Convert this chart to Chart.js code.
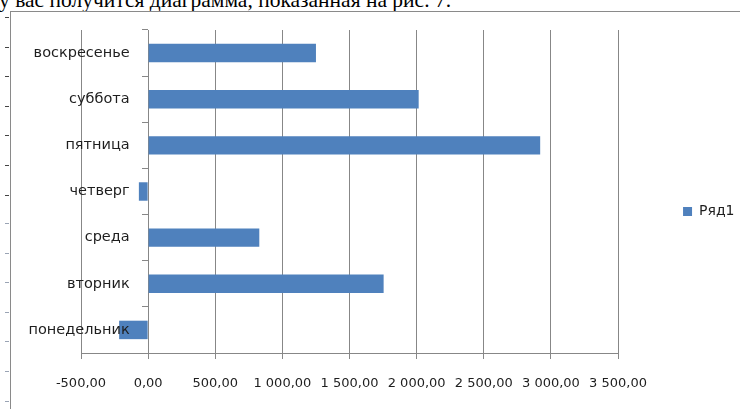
<!DOCTYPE html>
<html>
<head>
<meta charset="utf-8">
<script src="https://cdn.jsdelivr.net/npm/chart.js@4.4.0/dist/chart.umd.min.js"></script>
<style>
  html, body { margin: 0; padding: 0; background: #fff; }
  body { width: 740px; height: 409px; position: relative; overflow: hidden; }
  #caption { position: absolute; left: -1px; top: -10px; font: 21.5px/21px "Liberation Serif", serif; color: #000; white-space: nowrap; }
  #frame { position: absolute; left: 10px; top: 11px; width: 800px; height: 500px; border: 1px solid #8a8a8a; }
  .edge { position: absolute; left: 5px; width: 4px; }
  #edge1 { top: 17px; height: 190px; background: repeating-linear-gradient(to bottom, #444 0 1px, transparent 1px 29.6px); }
  #edge2 { top: 223px; height: 186px; background: repeating-linear-gradient(to bottom, #9aa4b4 0 1px, transparent 1px 29.6px); }
</style>
</head>
<body>
<div id="caption">у вас получится диаграмма, показанная на рис. 7.</div>
<div id="frame"></div>
<div class="edge" id="edge1"></div>
<div class="edge" id="edge2"></div>
<canvas id="dayChart" width="740" height="409" style="position:absolute;left:0;top:0"></canvas>
<script>
// Data
const days = ['понедельник', 'вторник', 'среда', 'четверг', 'пятница', 'суббота', 'воскресенье'];
const values = [-216, 1754, 828, -69, 2920, 2015, 1250];
const seriesName = 'Ряд1';
const axisMin = -500;
const axisMax = 3500;
const axisStep = 500;

// "1 000,00" style labels
function fmt(v) {
    const neg = v < 0;
    const parts = Math.abs(v).toFixed(2).split('.');
    const intPart = parts[0].replace(/\B(?=(\d{3})+(?!\d))/g, '\u00a0');
    return (neg ? '-' : '') + intPart + ',' + parts[1];
}

const gridGray = '#878787';
const textColor = '#1e1e1e';

const ctx = document.getElementById('dayChart').getContext('2d');
const dayChart = new Chart(ctx, {
    type: 'bar',
    data: {
        labels: days,
        datasets: [{
            label: seriesName,
            data: values,
            backgroundColor: '#4f81bd',
            borderWidth: 0,
            categoryPercentage: 1,
            barPercentage: 0.4
        }]
    },
    options: {
        indexAxis: 'y',
        responsive: false,
        animation: false,
        layout: {
            padding: { left: 81, right: -4.5, top: 30, bottom: 16 }
        },
        scales: {
            x: {
                min: axisMin,
                max: axisMax,
                grid: { color: gridGray, tickLength: 6, drawTicks: true },
                border: { color: gridGray },
                ticks: {
                    stepSize: axisStep,
                    autoSkip: false,
                    maxRotation: 0,
                    padding: 17,
                    color: textColor,
                    font: { family: 'DejaVu Sans', size: 13 },
                    callback: (v) => fmt(v)
                },
                afterFit: (s) => { s.height = 40; }
            },
            y: {
                reverse: true,
                // category axis crosses at 0, like the original
                position: { x: 0 },
                grid: { drawOnChartArea: false, color: gridGray, tickLength: 6, offset: true },
                border: { color: gridGray },
                ticks: {
                    z: 1, // labels drawn over the bars
                    color: textColor,
                    font: { family: 'DejaVu Sans', size: 14.5 },
                    // labels sit flush on the axis here, so leave a gap
                    callback: function (v) { return this.getLabelForValue(v) + '\u00a0\u00a0\u00a0\u00a0'; }
                }
            },
            // empty spacer between the plot and the legend
            gap: {
                type: 'linear',
                position: 'right',
                grid: { display: false },
                border: { display: false },
                ticks: { display: false },
                afterFit: (s) => { s.width = 63; }
            }
        },
        plugins: {
            legend: {
                position: 'right',
                labels: {
                    boxWidth: 9,
                    boxHeight: 9,
                    padding: 2,
                    color: textColor,
                    font: { family: 'DejaVu Sans', size: 14 }
                }
            },
            tooltip: { enabled: false }
        }
    }
});
</script>
</body>
</html>
